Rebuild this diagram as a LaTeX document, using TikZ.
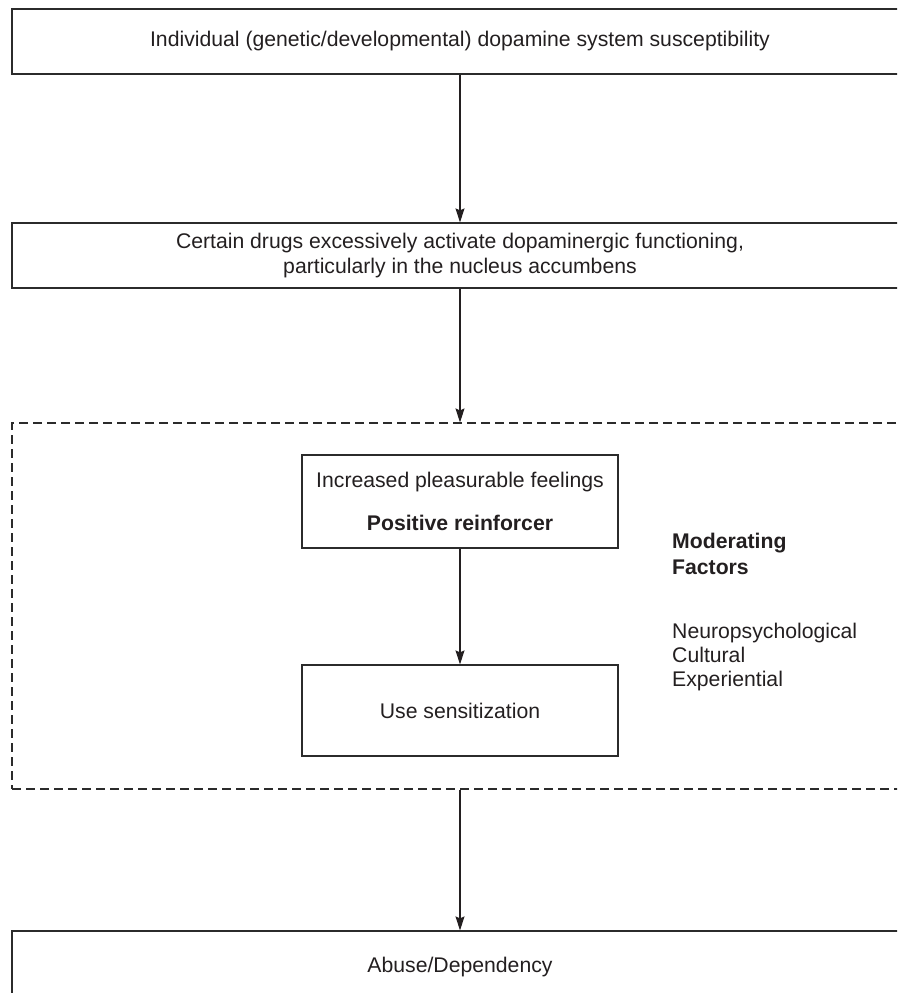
\documentclass[tikz,border=0pt]{standalone}
\usepackage{fontspec}
\setmainfont{Liberation Sans}
\usetikzlibrary{arrows.meta}
\definecolor{ink}{HTML}{231F20}
\definecolor{edge}{HTML}{2B2B2B}
\tikzset{
  boxnode/.style={draw=edge, line width=1.2pt, inner sep=0pt, align=center, text=ink,
    font=\fontsize{21.2}{25}\selectfont},
  framenode/.style={draw=edge, line width=1.1pt, dash pattern=on 9pt off 5pt, inner sep=0pt},
  plain/.style={inner sep=0pt, align=left, text=ink, anchor=west,
    font=\fontsize{21.2}{25}\selectfont},
  conn/.style={draw=ink, line width=1.1pt, -{Stealth[length=14pt,width=9pt,inset=2pt]}}
}
\begin{document}
\begin{tikzpicture}[x=1pt,y=-1pt]
\useasboundingbox (0,0) rectangle (897,993);
\clip (0,0) rectangle (897,993);
\node[boxnode, minimum width=896pt, minimum height=65pt] (susc) at (460,41.5)
  {Individual (genetic/developmental) dopamine system susceptibility};
\node[boxnode, minimum width=896pt, minimum height=65pt] (drugs) at (460,255.5)
  {Certain drugs excessively activate dopaminergic functioning,\\particularly in the nucleus accumbens};
\node[framenode, minimum width=896pt, minimum height=366pt] (frame) at (460,606) {};
\node[boxnode, minimum width=316pt, minimum height=93pt] (pleas) at (460,501.5)
  {Increased pleasurable feelings\\[18pt]\textbf{Positive reinforcer}};
\node[boxnode, minimum width=316pt, minimum height=91pt] (sens) at (460,710.5)
  {Use sensitization};
\node[boxnode, minimum width=896pt, minimum height=72pt] (abuse) at (460,967)
  {Abuse/Dependency};
\node[plain, font=\fontsize{21.2}{26}\selectfont\bfseries] (modt) at (672,554) {Moderating\\Factors};
\node[plain, font=\fontsize{21.2}{24}\selectfont] (modl) at (672,657) {Neuropsychological\\Cultural\\Experiential};
\draw[conn] (susc.south) -- (drugs.north);
\draw[conn] (drugs.south) -- (frame.north);
\draw[conn] (pleas.south) -- (sens.north);
\draw[conn] (frame.south) -- (abuse.north);
\end{tikzpicture}
\end{document}
